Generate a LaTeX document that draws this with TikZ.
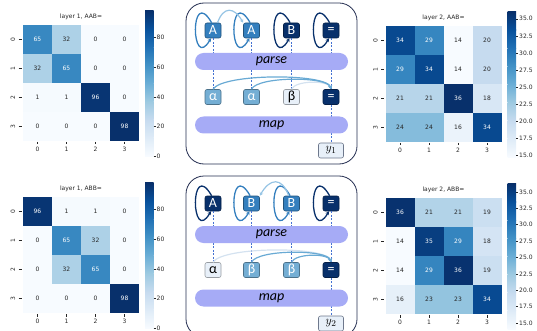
\documentclass[tikz,border=0pt]{standalone}
\usepackage{fontspec}
\newfontfamily\plotfont{DejaVu Sans}
\newfontfamily\calfont{Carlito}
\usetikzlibrary{arrows.meta}

%% matplotlib Blues
\definecolor{blues0}{RGB}{247,251,255}
\definecolor{blues1}{RGB}{222,235,247}
\definecolor{blues2}{RGB}{198,219,239}
\definecolor{blues3}{RGB}{158,202,225}
\definecolor{blues4}{RGB}{107,174,214}
\definecolor{blues5}{RGB}{66,146,198}
\definecolor{blues6}{RGB}{33,113,181}
\definecolor{blues7}{RGB}{8,81,156}
\definecolor{blues8}{RGB}{8,48,107}
\definecolor{hmgray}{RGB}{38,38,38}
%% diagram colours
\definecolor{tokmid}{RGB}{52,127,190}
\definecolor{toknavy}{RGB}{8,48,107}
\definecolor{toklight}{RGB}{116,174,212}
\definecolor{tokpale}{RGB}{232,240,249}
\definecolor{bandblue}{RGB}{166,171,246}
\definecolor{panelline}{RGB}{35,45,80}
\definecolor{dashblue}{RGB}{68,114,210}
\definecolor{arclight}{RGB}{150,196,228}
\definecolor{arcpale}{RGB}{212,226,240}
\definecolor{arcmid}{RGB}{105,170,212}
\definecolor{outline}{RGB}{110,120,140}

\tikzset{
  hmlabel/.style={font=\plotfont\fontsize{6}{7}\selectfont, text=hmgray, inner sep=0pt},
  hmtick/.style={draw=hmgray, line width=0.5pt},
  panel/.style={draw=panelline, line width=0.8pt, rounded corners=18pt},
  tok/.style={draw=#1!65!black, fill=#1, text=white, rounded corners=2pt, line width=0.6pt,
    minimum width=16pt, minimum height=15pt, inner sep=0pt, font=\calfont\fontsize{14}{14}\selectfont},
  selfloop/.style={draw=#1, line width=1.3pt, -{Stealth[length=3.5pt,width=4pt]},
    out=120, in=240, out distance=44pt, in distance=40pt},
  attn/.style={draw=#1, line width=1.2pt, -{Stealth[length=3.5pt,width=4pt]}},
  link/.style={draw=dashblue, dash pattern=on 2pt off 1.5pt, line width=0.7pt},
  band/.style={fill=bandblue, rounded corners=8.5pt, minimum width=153pt, minimum height=17pt,
    inner sep=0pt, font=\calfont\itshape\fontsize{14}{14}\selectfont},
  outbox/.style={draw=outline, fill=tokpale, rounded corners=2pt, line width=0.6pt,
    minimum width=25pt, minimum height=15pt, inner sep=0pt, font=\fontsize{13}{13}\selectfont},
}

%% value -> hmfill / hmtext
\newcommand\hmcolor[3]{%
  \pgfmathsetmacro\hmt{max(0,min(1,(#1-(#2))/((#3)-(#2))))*8}%
  \pgfmathtruncatemacro\hmseg{min(7,floor(\hmt))}%
  \pgfmathtruncatemacro\hmnext{\hmseg+1}%
  \pgfmathsetmacro\hmfrac{(\hmt-\hmseg)*100}%
  \colorlet{hmfill}{blues\hmnext!\hmfrac!blues\hmseg}%
  \pgfmathtruncatemacro\hmwhite{\hmt>4 ? 1 : 0}%
  \ifnum\hmwhite=1 \colorlet{hmtext}{white}\else\colorlet{hmtext}{hmgray}\fi}

%% #1 name, #2,#3 top left, #4 vmin, #5 vmax, #6 title, #7 values, #8 colorbar ticks
\newcommand\hmap[8]{%
\begin{scope}[shift={(#2,#3)}, name prefix=#1-]
  \foreach \v [count=\i from 0] in {#7} {
    \pgfmathtruncatemacro\r{floor(\i/4)}
    \pgfmathtruncatemacro\c{mod(\i,4)}
    \hmcolor{\v}{#4}{#5}
    \fill[hmfill] (\c*29,-\r*29) rectangle ++(29,-29);
    \node[hmlabel, text=hmtext] (cell\r\c) at (\c*29+14.5,-\r*29-14.5) {\v};
  }
  %% axes
  \foreach \n in {0,...,3} {
    \draw[hmtick] (-4.5,-\n*29-14.5) -- (-1.5,-\n*29-14.5);
    \node[hmlabel, rotate=90] (row\n) at (-10,-\n*29-14.5) {\n};
    \draw[hmtick] (\n*29+14.5,-117) -- (\n*29+14.5,-119.5);
    \node[hmlabel] (col\n) at (\n*29+14.5,-124) {\n};
  }
  \node[hmlabel] (title) at (58,8) {#6};
  %% colorbar
  \foreach \k [evaluate=\k as \kk using int(\k+1)] in {0,...,7}
    \shade[bottom color=blues\k, top color=blues\kk] (122,-131+\k*18.125) rectangle (130.5,-131+\kk*18.125+0.2);
  \foreach \v/\l [count=\n] in {#8} {
    \pgfmathsetmacro\ty{-131+(\v-(#4))/((#5)-(#4))*145}
    \draw[hmtick] (130.5,\ty) -- (132.5,\ty);
    \node[hmlabel, anchor=west] (bar\n) at (133.5,\ty) {\l};
  }
\end{scope}}

\begin{document}
\begin{tikzpicture}[x=1pt,y=1pt]
\useasboundingbox (0,0) rectangle (537,-331);

%% heat maps
\hmap{tl}{23}{-25}{0}{98}{layer 1, AAB=}{65,32,0,0,32,65,0,0,1,1,96,0,0,0,0,98}{0/0,20/20,40/40,60/60,80/80}
\hmap{tr}{385.5}{-26}{14.7}{36}{layer 2, AAB=}{34,29,14,20,29,34,14,20,21,21,36,18,24,24,16,34}{15/15.0,17.5/17.5,20/20.0,22.5/22.5,25/25.0,27.5/27.5,30/30.0,32.5/32.5,35/35.0}
\hmap{bl}{23}{-197}{0}{98}{layer 1, ABB=}{96,1,1,0,0,65,32,0,0,32,65,0,0,0,0,98}{0/0,20/20,40/40,60/60,80/80}
\hmap{br}{385.5}{-198}{14.1}{36.2}{layer 2, ABB=}{36,21,21,19,14,35,29,18,14,29,36,19,16,23,23,34}{15/15.0,17.5/17.5,20/20.0,22.5/22.5,25/25.0,27.5/27.5,30/30.0,32.5/32.5,35/35.0}

%% AAB=
\begin{scope}[name prefix=up-]
  \draw[panel] (186,-3) rectangle (357,-164);
  \node[tok=tokmid] (s1) at (213,-30.5) {A};
  \node[tok=tokmid] (s2) at (251.5,-30.5) {A};
  \node[tok=toknavy] (s3) at (291.5,-30.5) {B};
  \node[tok=toknavy] (s4) at (331,-30.5) {=};
  \node[tok=toklight] (m1) at (213,-97) {α};
  \node[tok=toklight] (m2) at (251.5,-97) {α};
  \node[tok=tokpale, text=black] (m3) at (291.5,-97) {β};
  \node[tok=toknavy] (m4) at (331,-97) {=};
  \node[outbox] (out) at (331,-150.5) {$y_1$};
  %% dashed links
  \foreach \i in {1,...,4} \draw[link] (s\i) -- (m\i);
  \draw[link] (m4) -- (out);
  %% bands
  \node[band] (parse) at (271.5,-61.5) {parse};
  \node[band] (map) at (271.5,-125) {map};
  %% self loops
  \foreach \i/\c in {1/tokmid,2/tokmid,3/toknavy,4/toknavy}
    \draw[selfloop=\c] (s\i.100) to (s\i.255);
  \draw[attn=arclight] (s1.60) to[out=70,in=120,looseness=1.8] (s2.north west);
  %% map arcs
  \draw[attn=arcpale] (m3.north) .. controls +(4,9) and +(-3,9) .. (m4.north);
  \draw[attn=arcmid] (m2.north) .. controls +(6,13) and +(-3,13) .. (m4.north);
  \draw[attn=arcmid] (m1.north) .. controls +(10,16) and +(-4,16) .. (m4.north);
\end{scope}

%% ABB=
\begin{scope}[shift={(0,-173)}, name prefix=dn-]
  \draw[panel] (186,-3) rectangle (357,-164);
  \node[tok=toknavy] (s1) at (213,-30.5) {A};
  \node[tok=tokmid] (s2) at (251.5,-30.5) {B};
  \node[tok=tokmid] (s3) at (291.5,-30.5) {B};
  \node[tok=toknavy] (s4) at (331,-30.5) {=};
  \node[tok=tokpale, text=black] (m1) at (213,-97) {α};
  \node[tok=toklight] (m2) at (251.5,-97) {β};
  \node[tok=toklight] (m3) at (291.5,-97) {β};
  \node[tok=toknavy] (m4) at (331,-97) {=};
  \node[outbox] (out) at (331,-150.5) {$y_2$};
  %% dashed links
  \foreach \i in {1,...,4} \draw[link] (s\i) -- (m\i);
  \draw[link] (m4) -- (out);
  %% bands
  \node[band] (parse) at (271.5,-61.5) {parse};
  \node[band] (map) at (271.5,-125) {map};
  %% self loops
  \foreach \i/\c in {1/toknavy,2/tokmid,3/tokmid,4/toknavy}
    \draw[selfloop=\c] (s\i.100) to (s\i.255);
  \draw[attn=arclight] (s3.110) to[out=110,in=60,looseness=1.8] (s2.north east);
  %% map arcs
  \draw[attn=arcpale] (m1.north) .. controls +(10,16) and +(-4,16) .. (m4.north);
  \draw[attn=arcmid] (m2.north) .. controls +(6,13) and +(-3,13) .. (m4.north);
  \draw[attn=arcmid] (m3.north) .. controls +(4,9) and +(-3,9) .. (m4.north);
\end{scope}
\end{tikzpicture}
\end{document}
